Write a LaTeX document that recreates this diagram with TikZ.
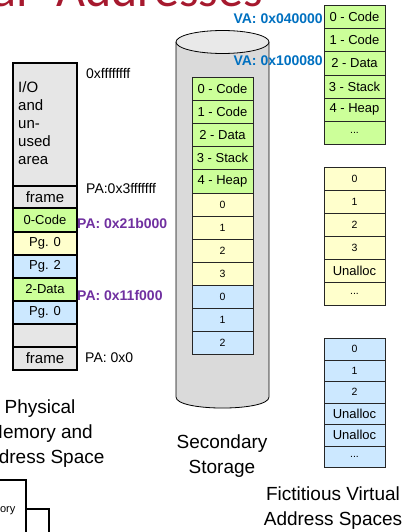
\documentclass[tikz,border=0pt]{standalone}
\usepackage{fontspec}
\setmainfont{Liberation Sans}
\newfontfamily\titlefont{Carlito}
\definecolor{memgray}{HTML}{E6E6E6}
\definecolor{codegreen}{HTML}{CCFF99}
\definecolor{pageyellow}{HTML}{FFFFCC}
\definecolor{pageblue}{HTML}{CCE8FF}
\definecolor{titlered}{HTML}{A6192E}
\definecolor{paddr}{HTML}{7030A0}
\definecolor{vaddr}{HTML}{0070C0}
\definecolor{disk}{HTML}{DADADA}
\definecolor{disktop}{HTML}{E9E9E9}
\newcommand{\fsz}[2]{\fontsize{#1}{#2}\selectfont}
\newcommand{\more}{...}
\tikzset{
  pcell/.style={draw=black, line width=2pt, minimum width=64pt, inner sep=0pt, anchor=north},
  vcell/.style={draw=black!85, line width=0.8pt, minimum width=61pt, inner sep=0pt, anchor=north},
  addr/.style={anchor=west, inner sep=0pt, font=\fsz{14}{16}},
  paddrlbl/.style={anchor=west, inner sep=0pt, text=paddr, font=\fsz{14}{16}\bfseries},
  vaddrlbl/.style={anchor=east, inner sep=0pt, text=vaddr, font=\fsz{14}{16}\bfseries},
  caption/.style={align=center, inner sep=0pt, font=\fsz{19}{25}},
  big/.style={font=\fsz{13}{15}},
  small/.style={font=\fsz{10.5}{12}},
  titletext/.style={inner sep=0pt, text=titlered, font=\titlefont\fsz{50}{56}},
}
\begin{document}
\begin{tikzpicture}[x=1pt,y=-1pt]
\useasboundingbox (0,0) rectangle (408,532);
\clip (0,0) rectangle (408,532);

% slide title
\node[titletext, anchor=base east] (title1) at (28,7) {al};
\node[titletext, anchor=base west] (title2) at (56,7) {Addresses};

% ---- physical memory ----
\node[pcell, fill=memgray, minimum height=123pt] (io) at (45,62) {};
\node[anchor=north west, align=left, inner sep=0pt, font=\fsz{15}{18}] (iotext) at (18,81) {I/O\\and\\un-\\used\\area};
\node[pcell, fill=memgray, minimum height=22pt, font=\fsz{15}{17}] (ftop) at (45,185) {frame};
\node[pcell, fill=codegreen, minimum height=24pt, big] (m1) at (45,207) {0-Code};
\node[pcell, fill=pageyellow, minimum height=23pt, big] (m2) at (45,231) {Pg. 0};
\node[pcell, fill=pageblue, minimum height=23pt, big] (m3) at (45,254) {Pg. 2};
\node[pcell, fill=codegreen, minimum height=23pt, big] (m4) at (45,277) {2-Data};
\node[pcell, fill=pageblue, minimum height=23pt, big] (m5) at (45,300) {Pg. 0};
\node[pcell, fill=memgray, minimum height=23pt] (m6) at (45,323) {};
\node[pcell, fill=memgray, minimum height=23pt, font=\fsz{15}{17}] (fbot) at (45,346) {frame};

\node[addr] (atop) at (86,74) {0xffffffff};
\node[addr] (a3f) at (86,189) {PA:0x3fffffff};
\node[paddrlbl] (a21b) at (77,223) {PA: 0x21b000};
\node[paddrlbl] (a11f) at (77,295) {PA: 0x11f000};
\node[addr] (a0) at (85,358) {PA: 0x0};

\node[caption] (physcap) at (40,434) {Physical\\Memory and\\Address Space};

% ---- secondary storage ----
\fill[disk] (176,42) rectangle (269,397);
\fill[disk] (176,397) .. controls (176,411.7) and (269,411.7) .. (269,397);
\draw[line width=0.8pt] (176,42) -- (176,397) .. controls (176,411.7) and (269,411.7) .. (269,397) -- (269,42);
\draw[line width=0.8pt, fill=disktop] (222.5,42) ellipse [x radius=46.5, y radius=11.5];

\foreach \i/\t/\c/\s in {0/0 - Code/codegreen/big, 1/1 - Code/codegreen/big, 2/2 - Data/codegreen/big,
    3/3 - Stack/codegreen/big, 4/4 - Heap/codegreen/big,
    5/0/pageyellow/small, 6/1/pageyellow/small, 7/2/pageyellow/small, 8/3/pageyellow/small,
    9/0/pageblue/small, 10/1/pageblue/small, 11/2/pageblue/small}
  \node[vcell, fill=\c, minimum height=23.1pt, \s] (d\i) at (222.5,77+23.1*\i) {\t};

\node[caption] (diskcap) at (222,456) {Secondary\\Storage};

% ---- virtual address spaces ----
\foreach \i/\t/\s in {0/0 - Code/big, 1/1 - Code/big, 2/2 - Data/big, 3/3 - Stack/big, 4/4 - Heap/big, 5/\more/small}
  \node[vcell, fill=codegreen, minimum height=23.2pt, \s] (va\i) at (354.5,5+23.2*\i) {\t};
\foreach \i/\t/\s in {0/0/small, 1/1/small, 2/2/small, 3/3/small, 4/Unalloc/big, 5/\more/small}
  \node[vcell, fill=pageyellow, minimum height=23pt, \s] (vb\i) at (354.5,167+23*\i) {\t};
\foreach \i/\t/\s in {0/0/small, 1/1/small, 2/2/small, 3/Unalloc/big, 4/Unalloc/big, 5/\more/small}
  \node[vcell, fill=pageblue, minimum height=21.5pt, \s] (vc\i) at (354.5,338+21.5*\i) {\t};

\node[vaddrlbl] (vacode) at (323,19) {VA: 0x040000};
\node[vaddrlbl] (vadata) at (323,61) {VA: 0x100080};

\node[caption] (vcap) at (333,508) {Fictitious Virtual\\Address Spaces};

% ---- partly visible box at lower left ----
\draw[line width=1.2pt] (0,480) -- (26,480) -- (26,532);
\draw[line width=1.2pt] (26,509) -- (49,509) -- (49,532);
\node[anchor=east, inner sep=0pt, font=\fsz{11}{13}] (boxtext) at (15.5,511) {ory};
\end{tikzpicture}
\end{document}
